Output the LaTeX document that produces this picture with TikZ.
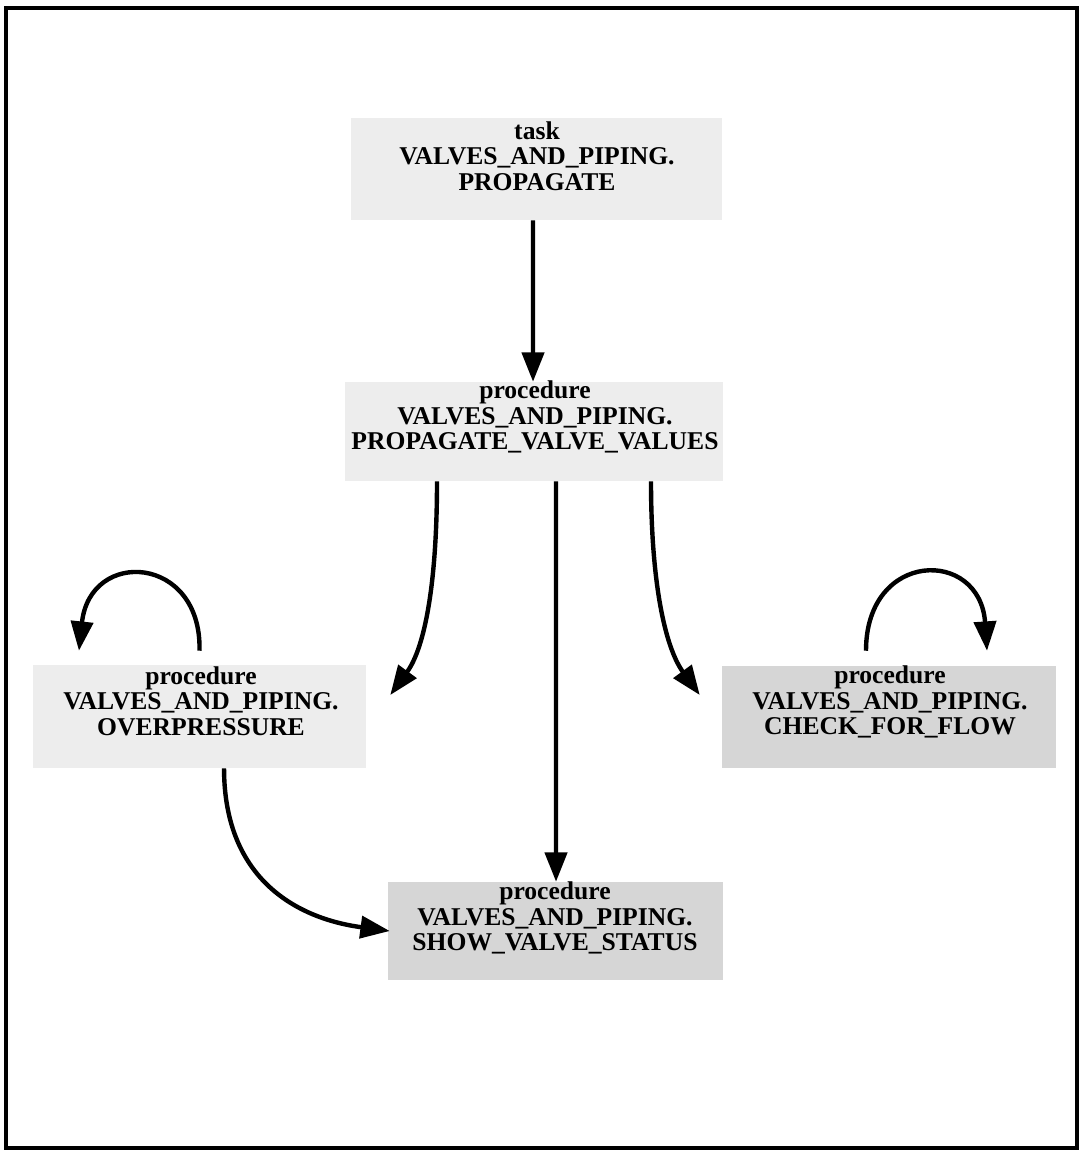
\documentclass[tikz,border=0pt]{standalone}
\usepackage{fontspec}
\setmainfont{Liberation Serif}
\usetikzlibrary{arrows.meta}
\begin{document}
\begin{tikzpicture}[x=0.75pt,y=-0.75pt,
  lightbox/.style={fill=gray!14, draw=none, inner sep=0pt},
  darkbox/.style={fill=gray!32, draw=none, inner sep=0pt},
  lbl/.style={align=center, font=\fontsize{19.2}{19}\selectfont\bfseries, inner sep=0pt},
  conn/.style={line width=3.3pt, -{Triangle[length=22pt,width=16.5pt]}},
  frameline/.style={line width=2.4pt}]
\useasboundingbox (0,0) rectangle (1082,1153);
\draw[frameline] (6,8) rectangle (1077,1148);

% boxes
\node[lightbox, minimum width=371*0.75pt, minimum height=102*0.75pt] (task) at (536.5,169) {};
\node[lightbox, minimum width=378*0.75pt, minimum height=99*0.75pt] (pvv) at (534,431.5) {};
\node[lightbox, minimum width=333*0.75pt, minimum height=103*0.75pt] (over) at (199.5,716.5) {};
\node[darkbox, minimum width=334*0.75pt, minimum height=102*0.75pt] (check) at (889,717) {};
\node[darkbox, minimum width=335*0.75pt, minimum height=98*0.75pt] (show) at (555.5,931) {};

% labels
\node[lbl] (taskT) at (537,156) {task\\VALVES\_AND\_PIPING.\\PROPAGATE};
\node[lbl] (pvvT) at (535,417) {procedure\\VALVES\_AND\_PIPING.\\PROPAGATE\_VALVE\_VALUES};
\node[lbl] (overT) at (201,701) {procedure\\VALVES\_AND\_PIPING.\\OVERPRESSURE};
\node[lbl] (checkT) at (890,702) {procedure\\VALVES\_AND\_PIPING.\\CHECK\_FOR\_FLOW};
\node[lbl] (showT) at (555,918) {procedure\\VALVES\_AND\_PIPING.\\SHOW\_VALVE\_STATUS};

% connectors
\draw[conn] ([xshift=-2.6pt]task.south) -- ([xshift=-0.75pt]pvv.north);
\draw[conn] ([xshift=-72.75pt]pvv.south) .. controls +(0,100) and +(35,-48) .. ([xshift=18pt,yshift=16.1pt]over.east);
\draw[conn] ([xshift=16.5pt]pvv.south) -- ([xshift=0.4pt]show.north);
\draw[conn] ([xshift=87.75pt]pvv.south) .. controls +(0,100) and +(-35,-48) .. ([xshift=-16.5pt,yshift=16.5pt]check.west);
\draw[conn] ([xshift=18.4pt]over.south) .. controls +(0,113) and +(-90,-12) .. ([xshift=1.5pt]show.west);
\draw[conn] ([yshift=10.5pt]over.north) .. controls +(2.5,-96) and +(11,-103) .. ([xshift=-90.4pt,yshift=10.5pt]over.north);
\draw[conn] ([xshift=-17.25pt,yshift=11.25pt]check.north) .. controls +(0,-101) and +(-7,-103) .. ([xshift=73.5pt,yshift=11.25pt]check.north);
\end{tikzpicture}
\end{document}
